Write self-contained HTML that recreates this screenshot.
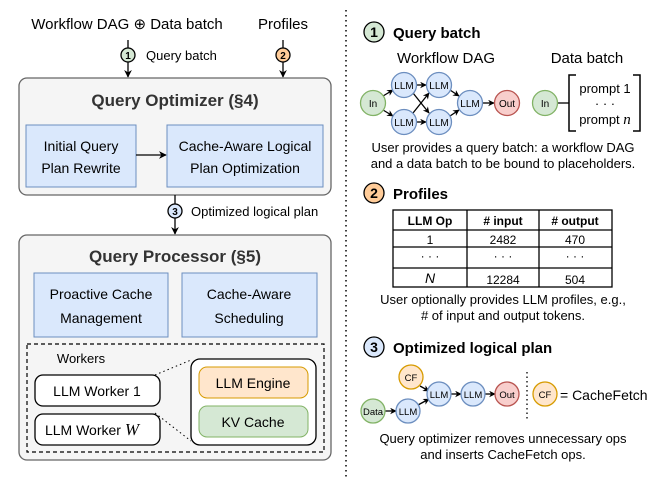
<!DOCTYPE html>
<html><head><meta charset="utf-8"><style>
html,body{margin:0;padding:0;background:#fff}
svg{display:block}
text{font-family:"Liberation Sans",sans-serif}
</style></head><body>
<svg width="660" height="485" viewBox="0 0 660 485" xmlns="http://www.w3.org/2000/svg">
<defs>
<marker id="a" viewBox="0 0 10 10" refX="9" refY="5" markerWidth="6" markerHeight="6" orient="auto"><path d="M0,0 L10,5 L0,10 L3,5 z" fill="#000"/></marker>
<marker id="s" viewBox="0 0 10 10" refX="9" refY="5" markerWidth="5" markerHeight="5" orient="auto"><path d="M0,0 L10,5 L0,10 L3,5 z" fill="#000"/></marker>
</defs>
<!-- LEFT -->
<text x="127" y="29" font-size="15" text-anchor="middle">Workflow DAG ⊕ Data batch</text>
<text x="283" y="29" font-size="15" text-anchor="middle">Profiles</text>
<line x1="128" y1="40" x2="128" y2="77" stroke="#000" stroke-width="1.3" marker-end="url(#a)"/>
<circle cx="128" cy="55" r="7" fill="#d5e8d4" stroke="#000" stroke-width="1.3"/>
<text x="128" y="59" font-size="10" font-weight="bold" text-anchor="middle">1</text>
<text x="146" y="60" font-size="13">Query batch</text>
<line x1="283" y1="40" x2="283" y2="77" stroke="#000" stroke-width="1.3" marker-end="url(#a)"/>
<circle cx="283" cy="55" r="7" fill="#ffcc99" stroke="#000" stroke-width="1.3"/>
<text x="283" y="59" font-size="10" font-weight="bold" text-anchor="middle">2</text>

<rect x="19" y="78" width="312" height="117" rx="8" fill="#f5f5f5" stroke="#666" stroke-width="1.3"/>
<text x="175" y="106" font-size="17" font-weight="bold" fill="#333" text-anchor="middle">Query Optimizer (§4)</text>
<rect x="26" y="125" width="110" height="62" fill="#dae8fc" stroke="#6c8ebf"/>
<text x="81" y="151" font-size="14" text-anchor="middle">Initial Query</text>
<text x="81" y="173" font-size="14" text-anchor="middle">Plan Rewrite</text>
<rect x="167" y="125" width="156" height="62" fill="#dae8fc" stroke="#6c8ebf"/>
<text x="245" y="151" font-size="14" text-anchor="middle">Cache-Aware Logical</text>
<text x="245" y="173" font-size="14" text-anchor="middle">Plan Optimization</text>
<line x1="136" y1="155" x2="166" y2="155" stroke="#000" stroke-width="1.3" marker-end="url(#a)"/>

<line x1="175" y1="195" x2="175" y2="234" stroke="#000" stroke-width="1.3" marker-end="url(#a)"/>
<circle cx="175" cy="211" r="7" fill="#dae8fc" stroke="#000" stroke-width="1.3"/>
<text x="175" y="215" font-size="10" font-weight="bold" text-anchor="middle">3</text>
<text x="191" y="216" font-size="13">Optimized logical plan</text>

<rect x="19" y="235" width="312" height="225" rx="8" fill="#f5f5f5" stroke="#666" stroke-width="1.3"/>
<text x="175" y="262" font-size="17" font-weight="bold" fill="#333" text-anchor="middle">Query Processor (§5)</text>
<rect x="34" y="273" width="134" height="64" fill="#dae8fc" stroke="#6c8ebf"/>
<text x="101" y="299" font-size="14" text-anchor="middle">Proactive Cache</text>
<text x="101" y="323" font-size="14" text-anchor="middle">Management</text>
<rect x="182" y="273" width="135" height="64" fill="#dae8fc" stroke="#6c8ebf"/>
<text x="249" y="299" font-size="14" text-anchor="middle">Cache-Aware</text>
<text x="249" y="323" font-size="14" text-anchor="middle">Scheduling</text>

<rect x="27" y="344" width="297" height="108" fill="none" stroke="#000" stroke-width="1.2" stroke-dasharray="4,3"/>
<text x="81" y="363" font-size="13" text-anchor="middle">Workers</text>
<rect x="35" y="375" width="125" height="31" rx="8" fill="#fff" stroke="#000" stroke-width="1.3"/>
<text x="97" y="396" font-size="14" text-anchor="middle">LLM Worker 1</text>
<rect x="35" y="414" width="125" height="31" rx="8" fill="#fff" stroke="#000" stroke-width="1.3"/>
<text x="92" y="435" font-size="14" text-anchor="middle">LLM Worker <tspan font-family="Liberation Serif" font-style="italic" font-size="17">W</tspan></text>
<line x1="155" y1="375" x2="191" y2="360" stroke="#000" stroke-dasharray="1.5,3"/>
<line x1="155" y1="413" x2="191" y2="441" stroke="#000" stroke-dasharray="1.5,3"/>
<rect x="191" y="359" width="125" height="86" rx="9" fill="#fff" stroke="#000" stroke-width="1.3"/>
<rect x="199" y="367" width="109" height="31" rx="8" fill="#ffe6cc" stroke="#d79b00"/>
<text x="253" y="388" font-size="14" text-anchor="middle">LLM Engine</text>
<rect x="199" y="406" width="109" height="31" rx="8" fill="#d5e8d4" stroke="#82b366"/>
<text x="253" y="427" font-size="14" text-anchor="middle">KV Cache</text>

<line x1="346" y1="10" x2="346" y2="477" stroke="#000" stroke-width="1.5" stroke-dasharray="1.5,3.5"/>

<!-- RIGHT 1 -->
<circle cx="374" cy="32" r="10" fill="#d5e8d4" stroke="#000" stroke-width="1.3"/>
<text x="374" y="37" font-size="14" font-weight="bold" text-anchor="middle">1</text>
<text x="393" y="38" font-size="15" font-weight="bold">Query batch</text>
<text x="446" y="63" font-size="15" text-anchor="middle">Workflow DAG</text>
<text x="587" y="63" font-size="15" text-anchor="middle">Data batch</text>
<g stroke="#000" stroke-width="1.3" marker-end="url(#s)">
<line x1="383" y1="96" x2="393" y2="90"/>
<line x1="383" y1="110" x2="393" y2="116"/>
<line x1="416" y1="85" x2="426" y2="85"/>
<line x1="416" y1="122" x2="426" y2="122"/>
<line x1="413" y1="93" x2="429" y2="113"/>
<line x1="413" y1="113" x2="429" y2="93"/>
<line x1="450" y1="90" x2="459" y2="96"/>
<line x1="450" y1="116" x2="459" y2="110"/>
<line x1="482" y1="103" x2="494" y2="103"/>
</g>
<g font-size="10" text-anchor="middle">
<circle cx="373" cy="103" r="12.5" fill="#d5e8d4" stroke="#82b366" stroke-width="1.3"/><text x="373" y="107">In</text>
<circle cx="404" cy="85" r="12.5" fill="#dae8fc" stroke="#6c8ebf" stroke-width="1.3"/><text x="404" y="89">LLM</text>
<circle cx="439" cy="85" r="12.5" fill="#dae8fc" stroke="#6c8ebf" stroke-width="1.3"/><text x="439" y="89">LLM</text>
<circle cx="404" cy="122" r="12.5" fill="#dae8fc" stroke="#6c8ebf" stroke-width="1.3"/><text x="404" y="126">LLM</text>
<circle cx="439" cy="122" r="12.5" fill="#dae8fc" stroke="#6c8ebf" stroke-width="1.3"/><text x="439" y="126">LLM</text>
<circle cx="470" cy="103" r="12.5" fill="#dae8fc" stroke="#6c8ebf" stroke-width="1.3"/><text x="470" y="107">LLM</text>
<circle cx="507" cy="103" r="12.5" fill="#f8cecc" stroke="#b85450" stroke-width="1.3"/><text x="507" y="107">Out</text>
<line x1="557" y1="103" x2="569" y2="103" stroke="#000" stroke-width="1.3"/>
<circle cx="545" cy="103" r="12.5" fill="#d5e8d4" stroke="#82b366" stroke-width="1.3"/><text x="545" y="107">In</text>
</g>
<path d="M576,75 H569 V131 H576 M633,75 H640 V131 H633" fill="none" stroke="#000" stroke-width="1.5"/>
<text x="605" y="93" font-size="13" text-anchor="middle">prompt 1</text>
<text x="605" y="108" font-size="13" text-anchor="middle">· · ·</text>
<text x="605" y="124" font-size="13" text-anchor="middle">prompt <tspan font-family="Liberation Serif" font-style="italic" font-size="15">n</tspan></text>
<text x="503" y="152" font-size="13" text-anchor="middle">User provides a query batch: a workflow DAG</text>
<text x="503" y="168" font-size="13" text-anchor="middle">and a data batch to be bound to placeholders.</text>

<!-- RIGHT 2 -->
<circle cx="374" cy="193" r="10" fill="#ffcc99" stroke="#000" stroke-width="1.3"/>
<text x="374" y="198" font-size="14" font-weight="bold" text-anchor="middle">2</text>
<text x="393" y="199" font-size="15" font-weight="bold">Profiles</text>
<g stroke="#000" stroke-width="1.3" fill="none">
<rect x="393" y="210" width="219" height="77"/>
<line x1="393" y1="230" x2="612" y2="230"/>
<line x1="393" y1="247" x2="612" y2="247"/>
<line x1="393" y1="268" x2="612" y2="268"/>
<line x1="467" y1="210" x2="467" y2="287"/>
<line x1="539" y1="210" x2="539" y2="287"/>
</g>
<g font-size="12" text-anchor="middle">
<text x="430" y="225" font-weight="bold">LLM Op</text><text x="503" y="225" font-weight="bold"># input</text><text x="575" y="225" font-weight="bold"># output</text>
<text x="430" y="244">1</text><text x="503" y="244">2482</text><text x="575" y="244">470</text>
<text x="430" y="260">· · ·</text><text x="503" y="260">· · ·</text><text x="575" y="260">· · ·</text>
<text x="430" y="283" font-family="Liberation Serif" font-style="italic" font-size="14">N</text><text x="503" y="284">12284</text><text x="575" y="284">504</text>
</g>
<text x="503" y="304" font-size="13" text-anchor="middle">User optionally provides LLM profiles, e.g.,</text>
<text x="503" y="320" font-size="13" text-anchor="middle"># of input and output tokens.</text>

<!-- RIGHT 3 -->
<circle cx="374" cy="347" r="10" fill="#dae8fc" stroke="#000" stroke-width="1.3"/>
<text x="374" y="352" font-size="14" font-weight="bold" text-anchor="middle">3</text>
<text x="393" y="353" font-size="15" font-weight="bold">Optimized logical plan</text>
<g stroke="#000" stroke-width="1.3" marker-end="url(#s)">
<line x1="420" y1="386" x2="429" y2="391"/>
<line x1="385" y1="411" x2="396" y2="411"/>
<line x1="418" y1="405" x2="429" y2="399"/>
<line x1="451" y1="394" x2="461" y2="394"/>
<line x1="485" y1="394" x2="495" y2="394"/>
</g>
<g font-size="9.5" text-anchor="middle">
<circle cx="411" cy="377" r="12" fill="#ffe6cc" stroke="#d79b00" stroke-width="1.3"/><text x="411" y="381">CF</text>
<circle cx="373" cy="411" r="12" fill="#d5e8d4" stroke="#82b366" stroke-width="1.3"/><text x="373" y="415">Data</text>
<circle cx="408" cy="411" r="12" fill="#dae8fc" stroke="#6c8ebf" stroke-width="1.3"/><text x="408" y="415">LLM</text>
<circle cx="439" cy="394" r="12" fill="#dae8fc" stroke="#6c8ebf" stroke-width="1.3"/><text x="439" y="398">LLM</text>
<circle cx="473" cy="394" r="12" fill="#dae8fc" stroke="#6c8ebf" stroke-width="1.3"/><text x="473" y="398">LLM</text>
<circle cx="507" cy="394" r="12" fill="#f8cecc" stroke="#b85450" stroke-width="1.3"/><text x="507" y="398">Out</text>
<circle cx="545" cy="394" r="12" fill="#ffe6cc" stroke="#d79b00" stroke-width="1.3"/><text x="545" y="398">CF</text>
</g>
<line x1="527" y1="372" x2="527" y2="421" stroke="#000" stroke-width="1.3" stroke-dasharray="1.5,3"/>
<text x="560" y="400" font-size="14">= CacheFetch</text>
<text x="503" y="443" font-size="13" text-anchor="middle">Query optimizer removes unnecessary ops</text>
<text x="503" y="459" font-size="13" text-anchor="middle">and inserts CacheFetch ops.</text>
</svg>
</body></html>
